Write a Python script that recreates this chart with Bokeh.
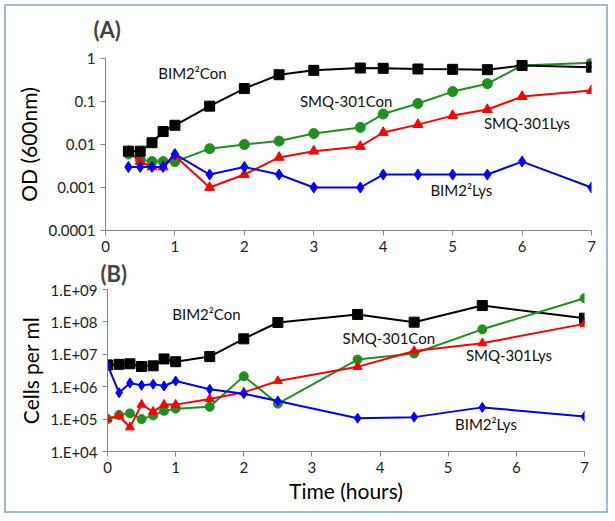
from bokeh.plotting import figure
from bokeh.layouts import column, row
from bokeh.models import Label, FixedTicker, CustomJSTickFormatter, Range1d
from bokeh.embed import file_html
from bokeh.resources import INLINE

# ---- Panel A data (OD 600nm) ----
tA = [0.33, 0.5, 0.67, 0.83, 1, 1.5, 2, 2.5, 3, 3.67, 4, 4.5, 5, 5.5, 6, 7]
odBimCon = [0.007, 0.007, 0.011, 0.02, 0.028, 0.078, 0.2, 0.42, 0.53, 0.6, 0.59, 0.57, 0.56, 0.55, 0.69, 0.63]
odSmqCon = [0.006, 0.0045, 0.004, 0.004, 0.004, 0.008, 0.01, 0.012, 0.018, 0.025, 0.051, 0.09, 0.17, 0.26, 0.69, 0.8]
odSmqLys = [0.007, 0.004, 0.003, 0.003, 0.0055, 0.001, 0.002, 0.005, 0.007, 0.009, 0.019, 0.029, 0.047, 0.065, 0.13, 0.18]
odBimLys = [0.003, 0.003, 0.003, 0.003, 0.006, 0.002, 0.003, 0.002, 0.001, 0.001, 0.002, 0.002, 0.002, 0.002, 0.004, 0.001]

# ---- Panel B data (cells per ml) ----
tB = [0, 0.17, 0.33, 0.5, 0.67, 0.83, 1, 1.5, 2, 2.5, 3.67, 4.5, 5.5, 7]
cBimCon = [4.7e6, 4.9e6, 5.1e6, 4.2e6, 4.4e6, 7.2e6, 5.9e6, 8.5e6, 3.0e7, 9.6e7, 1.7e8, 9.8e7, 3.2e8, 1.3e8]
cBimLys = [4.7e6, 6.5e5, 1.3e6, 1.1e6, 1.2e6, 1.05e6, 1.5e6, 8.3e5, 6.1e5, 3.6e5, 1.07e5, 1.15e5, 2.3e5, 1.2e5]
cSmqCon = [1.0e5, 1.35e5, 1.5e5, 1.0e5, 1.3e5, 1.8e5, 2.1e5, 2.4e5, 2.1e6, 3.0e5, 6.9e6, 1.06e7, 5.9e7, 5.4e8]
cSmqLys = [1.0e5, 1.25e5, 5.6e4, 2.8e5, 1.7e5, 2.8e5, 2.8e5, 4.2e5, 6.7e5, 1.5e6, 4.1e6, 1.26e7, 2.2e7, 8.7e7]

xTicks = [0, 1, 2, 3, 4, 5, 6, 7]
yTicksA = [0.0001, 0.001, 0.01, 0.1, 1]
yTicksB = [1e4, 1e5, 1e6, 1e7, 1e8, 1e9]

FONT = "Lato"
BLACK = "#000000"
GREEN = "#1f8f1f"
RED = "#ff0000"
BLUE = "#0000ff"
AXIS = "#868686"


def style(p, ylabel, xlabel=None):
    p.outline_line_color = None
    p.border_fill_color = None
    p.background_fill_color = None
    p.xgrid.visible = False
    p.ygrid.visible = False
    for ax in (p.xaxis[0], p.yaxis[0]):
        ax.axis_line_color = AXIS
        ax.major_tick_line_color = AXIS
        ax.major_tick_in = 0
        ax.major_tick_out = 5
        ax.minor_tick_line_color = None
        ax.major_label_text_font = FONT
        ax.major_label_text_font_size = "15px"
        ax.major_label_text_color = "#222222"
        ax.axis_label_text_font = FONT
        ax.axis_label_text_font_style = "normal"
        ax.axis_label_text_font_size = "21px"
        ax.axis_label_text_color = "#000000"
    p.xaxis[0].ticker = FixedTicker(ticks=xTicks)
    p.yaxis[0].axis_label = ylabel
    p.yaxis[0].axis_label_standoff = 4
    if xlabel:
        p.xaxis[0].axis_label = xlabel
        p.xaxis[0].axis_label_standoff = 2
    p.title.text_font = FONT
    p.title.text_font_size = "22px"
    p.title.text_font_style = "bold"
    p.title.align = "left"
    p.title.vertical_align = "top"


def series(p, x, y, color, marker, size):
    p.line(x, y, line_color=color, line_width=2)
    p.scatter(x, y, marker=marker, size=size, fill_color=color, line_color=color)


def lab(p, x, y, text):
    p.add_layout(Label(x=x, y=y, text=text, text_font=FONT, text_font_size="15px",
                       text_baseline="middle", text_align="left", text_color="#111111"))


# ---- Panel A ----
pA = figure(width=612, height=258, y_axis_type="log", output_backend="svg", toolbar_location=None,
            title="(A)",
            x_range=Range1d(0, 7), y_range=Range1d(0.0001, 1),
            min_border_left=105, min_border_right=21, min_border_top=58, min_border_bottom=28)
style(pA, "OD (600nm)")
pA.title.offset = -12
pA.title.standoff = 28
pA.yaxis[0].ticker = FixedTicker(ticks=yTicksA)
pA.yaxis[0].formatter = CustomJSTickFormatter(code="return tick.toString();")
series(pA, tA, odSmqCon, GREEN, "circle", 10)
series(pA, tA, odSmqLys, RED, "triangle", 10)
series(pA, tA, odBimLys, BLUE, "diamond", 11)
series(pA, tA, odBimCon, BLACK, "square", 10)
lab(pA, 0.76, 0.47, "BIM2\u00b2Con")
lab(pA, 2.8, 0.105, "SMQ-301Con")
lab(pA, 5.45, 0.032, "SMQ-301Lys")
lab(pA, 4.68, 0.00089, "BIM2\u00b2Lys")

# ---- Panel B ----
pB = figure(width=612, height=259, y_axis_type="log", output_backend="svg", toolbar_location=None,
            title="(B)",
            x_range=Range1d(0, 7), y_range=Range1d(1e4, 1e9),
            min_border_left=107, min_border_right=28, min_border_top=30, min_border_bottom=66)
style(pB, "Cells per ml", "Time (hours)")
pB.title.offset = -7
pB.title.standoff = 2
pB.yaxis[0].ticker = FixedTicker(ticks=yTicksB)
pB.yaxis[0].formatter = CustomJSTickFormatter(
    code="const e = Math.round(Math.log10(tick)); return '1.E+' + String(e).padStart(2, '0');")
series(pB, tB, cBimCon, BLACK, "square", 10)
series(pB, tB, cSmqCon, GREEN, "circle", 9)
series(pB, tB, cSmqLys, RED, "triangle", 9)
series(pB, tB, cBimLys, BLUE, "diamond", 10)
lab(pB, 0.95, 1.8e8, "BIM2\u00b2Con")
lab(pB, 3.45, 3.2e7, "SMQ-301Con")
lab(pB, 5.26, 9.6e6, "SMQ-301Lys")
lab(pB, 5.1, 7.2e4, "BIM2\u00b2Lys")

layout = column(row(pA), row(pB), spacing=0,
                styles={"outline": "2px solid #a3b9d2", "outline-offset": "-6px",
                        "background-color": "#ffffff"})

open("out.html", "w").write(file_html(layout, INLINE))
